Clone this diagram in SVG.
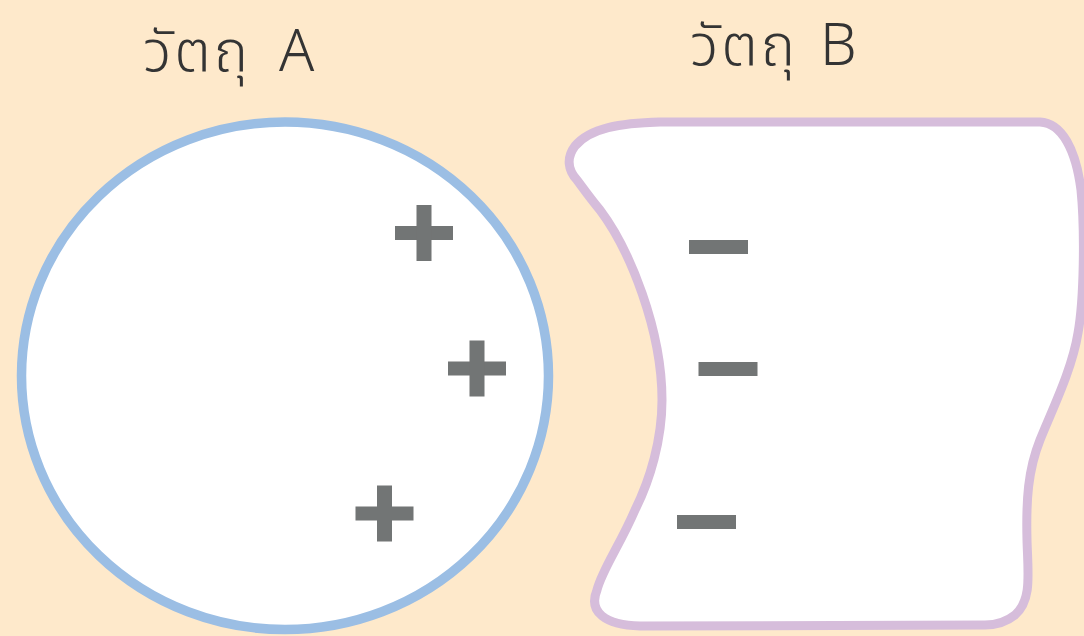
<svg xmlns="http://www.w3.org/2000/svg" width="1084" height="636" viewBox="0 0 1084 636">
<style>
.lbl{font-family:"Noto Sans Thai","Noto Sans","DejaVu Sans",sans-serif;font-size:58px;font-weight:300;fill:#343434;letter-spacing:3px;word-spacing:10px}
.sign{fill:#727575}
</style>
<defs>
<g id="plus"><rect x="-29" y="-7" width="58" height="14"/><rect x="-7.5" y="-28" width="15" height="56"/></g>
<rect id="minus" x="-29.5" y="-7" width="59" height="14"/>
</defs>
<rect width="1084" height="636" fill="#FEE9CB"/>
<g id="objA">
<ellipse cx="285" cy="375.8" rx="263.5" ry="253.8" fill="#FFFFFF" stroke="#9BBEE4" stroke-width="9.5"/>
<g class="sign">
<use href="#plus" x="424" y="233"/>
<use href="#plus" x="477" y="368.5"/>
<use href="#plus" x="384.5" y="513.5"/>
</g>
<text class="lbl" x="143" y="71">วัตถุ A</text>
</g>
<g id="objB">
<path d="M577,180 C568,170 566,158 575,146 C590,128 620,123 660,122 L1040,122 C1062,123 1076,150 1081,190 C1085,230 1084,300 1078,333 C1072,370 1052,410 1040,440 C1028,470 1026,500 1027,540 C1028,575 1032,600 1015,615 C1005,623 995,625 985,625 L640,626 C605,625 588,612 597,590 C602,570 620,545 635,510 C650,480 662,440 662,400 C662,330 630,250 600,210 C590,198 583,188 577,180 Z" fill="#FFFFFF" stroke="#D6BDDB" stroke-width="9"/>
<g class="sign">
<use href="#minus" x="718.5" y="247"/>
<use href="#minus" x="728" y="369"/>
<use href="#minus" x="706.5" y="522"/>
</g>
<text class="lbl" x="690" y="65" style="word-spacing:4px">วัตถุ B</text>
</g>
</svg>
